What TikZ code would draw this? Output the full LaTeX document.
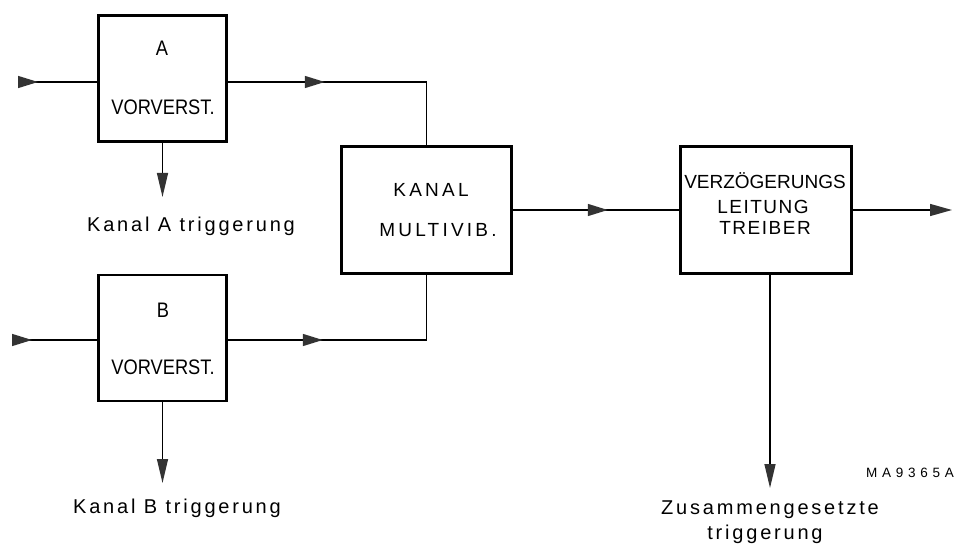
\documentclass[tikz,border=0pt]{standalone}
\usepackage{fontspec}
\setmainfont{Liberation Sans}
\newfontfamily\fntA[FakeStretch=0.87]{Liberation Sans}
\newfontfamily\fntL[LetterSpace=14]{Liberation Sans}
\newfontfamily\fntK[LetterSpace=17]{Liberation Sans}
\newfontfamily\fntW[LetterSpace=8]{Liberation Sans}
\newfontfamily\fntV{Liberation Sans}
\newfontfamily\fntM[LetterSpace=35]{Liberation Sans}
\usetikzlibrary{arrows.meta,decorations.markings}
\begin{document}
\begin{tikzpicture}[x=1pt,y=-1pt,
  blk/.style={draw, line width=2.6pt, minimum width=128pt, minimum height=126pt, inner sep=0pt},
  wire/.style={line width=1.4pt},
  midarr/.style={postaction={decorate}, decoration={markings, mark=at position #1 with {\arrow[black!80]{Triangle[length=20pt,width=12pt]}}}},
  dn/.style={-{Triangle[length=24pt,width=11pt,color=black!80]}},
  rt/.style={-{Triangle[length=22pt,width=12pt,color=black!80]}},
  boxtxt/.style={font=\fntA\fontsize{21}{24}\selectfont, inner sep=0pt},
  sptxt/.style={font=\fntK\fontsize{19}{22}\selectfont, inner sep=0pt},
  vtxt/.style={font=\fntW\fontsize{19}{22}\selectfont, inner sep=0pt},
  lbl/.style={font=\fntL\fontsize{20}{24}\selectfont, inner sep=0pt, anchor=base}
]
\useasboundingbox (0,0) rectangle (958,545);
% boxes
\node[blk] (A) at (162.5,78.5) {};
\node[blk] (B) at (162.5,338) {};
\node[blk, minimum width=170pt, minimum height=127pt] (K) at (426.5,210) {};
\node[blk, minimum width=171pt, minimum height=127pt] (V) at (766,210) {};
% box texts
\node[boxtxt] (tA) at (162,48) {A};
\node[boxtxt] (tAv) at (163,107) {VORVERST.};
\node[boxtxt] (tB) at (163,310) {B};
\node[boxtxt] (tBv) at (163,367) {VORVERST.};
\node[sptxt] (tK1) at (431,190) {KANAL};
\node[sptxt] (tK2) at (438,230) {MULTIVIB.};
\node[font=\fntV\fontsize{19}{22}\selectfont, inner sep=0pt] (tV1) at (765,181) {VERZÖGERUNGS};
\node[vtxt] (tV2) at (763,207) {LEITUNG};
\node[vtxt] (tV3) at (765,228) {TREIBER};
% labels
\node[lbl] (lA) at (191,232) {Kanal A triggerung};
\node[lbl] (lB) at (177,513) {Kanal B triggerung};
\node[lbl] (lZ) at (770,514) {Zusammengesetzte};
\node[lbl] (lT) at (765,539) {triggerung};
\node[font=\fntM\fontsize{13.5}{16}\selectfont, inner sep=0pt] (ma) at (910,473) {MA9365A};
% connectors
\coordinate (inA) at (18,82);
\coordinate (inB) at (12,340);
\coordinate (oA) at (162.5,197);
\coordinate (oB) at (162.5,483);
\coordinate (oV) at (952,210);
\coordinate (oVd) at (770,488);
\draw[wire, midarr=20pt] (inA) -- (inA -| A.west);
\draw[wire, midarr=97pt] (A.east |- inA) -| (K.north);
\draw[wire, midarr=20pt] (inB) -- (inB -| B.west);
\draw[wire, midarr=95pt] (B.east |- inB) -| (K.south);
\draw[wire, dn] (A.south) -- (oA);
\draw[wire, dn] (B.south) -- (oB);
\draw[wire, midarr=95pt] (K.east) -- (V.west);
\draw[wire, rt] (V.east) -- (oV);
\draw[wire, dn] (V.south -| oVd) -- (oVd);
\end{tikzpicture}
\end{document}
